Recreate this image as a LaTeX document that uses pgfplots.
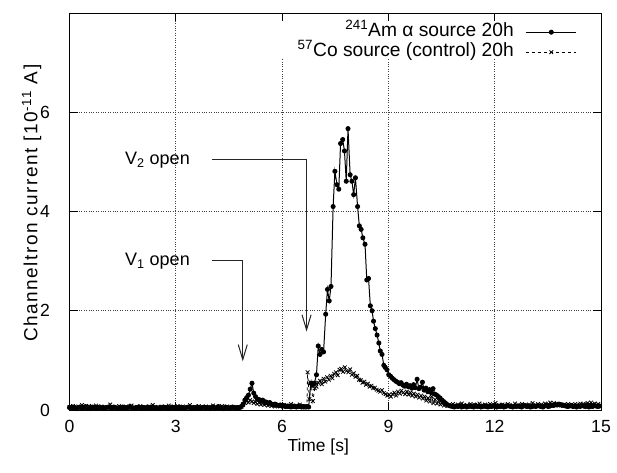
\documentclass[border=0pt]{standalone}
\usepackage{fontspec}
\setmainfont{Liberation Sans}
\newfontfamily\ylabfont[LetterSpace=8]{Liberation Sans}
\usepackage{pgfplots}
\pgfplotsset{compat=1.18}
\usetikzlibrary{arrows.meta}
\begin{document}
\begin{tikzpicture}[font=\fontsize{17.4}{20}\selectfont]
\useasboundingbox (-69.5pt,-62pt) rectangle (547.5pt,410pt);
\begin{axis}[
  at={(0pt,0pt)}, anchor=south west,
  scale only axis, width=531.5pt, height=397pt,
  xmin=0, xmax=15, ymin=0, ymax=8,
  xtick={0,3,...,15}, ytick={0,2,4,6},
  tick align=inside, major tick length=8pt,
  axis line style={line width=1pt},
  every tick/.style={black, line width=1pt},
  grid=major, grid style={dotted, line width=0.8pt, black!75},
  /pgf/number format/assume math mode=true,
  tick label style={font=\fontsize{17.6}{20}\selectfont},
  xticklabel style={anchor=north, inner sep=0pt, yshift=-10pt},
  yticklabel style={anchor=east, inner sep=0pt, xshift=-19.5pt},
  xlabel={Time [s]},
  ylabel={\ylabfont Channeltron current [10\textsuperscript{-11} A]},
  every axis x label/.style={at={([yshift=-36.7pt]axis description cs:0.468,0)}, anchor=center, font=\fontsize{17.4}{20}\selectfont},
  every axis y label/.style={at={([xshift=-37.8pt]axis description cs:0,0.521)}, rotate=90, anchor=center, font=\fontsize{19}{22}\selectfont},
  legend style={draw=none, fill=none, at={(axis description cs:1,1)}, anchor=north east,
    xshift=-24pt, yshift=-10pt, inner sep=0pt, column sep=12pt, row sep=2pt,
    font=\fontsize{19.2}{22}\selectfont,
    nodes={inner sep=0pt, text height=13.5pt, text depth=4.5pt}},
  legend cell align=right, legend plot pos=right,
  legend image code/.code={\draw[mark repeat=2, mark phase=2] plot coordinates {(0pt,0pt) (25pt,0pt) (50pt,0pt)};},
]
\fill[white] (axis cs:5.94,7.07) rectangle (axis cs:14.97,7.84);
\addplot[black, line width=1pt, mark=*, mark size=2pt, mark options={solid}] coordinates {
(0.00,0.05)(0.05,0.04)(0.10,0.06)(0.15,0.05)(0.20,0.03)(0.25,0.05)(0.30,0.06)(0.35,0.04)(0.40,0.05)(0.45,0.07)
(0.50,0.04)(0.55,0.05)(0.60,0.03)(0.65,0.06)(0.70,0.05)(0.75,0.04)(0.80,0.05)(0.85,0.06)(0.90,0.04)(0.95,0.05)
(1.00,0.03)(1.05,0.05)(1.10,0.06)(1.15,0.05)(1.20,0.04)(1.25,0.06)(1.30,0.05)(1.35,0.03)(1.40,0.05)(1.45,0.04)
(1.50,0.06)(1.55,0.05)(1.60,0.04)(1.65,0.05)(1.70,0.07)(1.75,0.05)(1.80,0.04)(1.85,0.03)(1.90,0.05)(1.95,0.06)
(2.00,0.04)(2.05,0.05)(2.10,0.05)(2.15,0.03)(2.20,0.06)(2.25,0.04)(2.30,0.05)(2.35,0.06)(2.40,0.04)(2.45,0.05)
(2.50,0.03)(2.55,0.05)(2.60,0.04)(2.65,0.06)(2.70,0.05)(2.75,0.05)(2.80,0.03)(2.85,0.04)(2.90,0.06)(2.95,0.05)
(3.00,0.04)(3.05,0.05)(3.10,0.06)(3.15,0.04)(3.20,0.05)(3.25,0.03)(3.30,0.05)(3.35,0.06)(3.40,0.05)(3.45,0.04)
(3.50,0.05)(3.55,0.03)(3.60,0.06)(3.65,0.05)(3.70,0.04)(3.75,0.05)(3.80,0.06)(3.85,0.04)(3.90,0.05)(3.95,0.03)
(4.00,0.05)(4.05,0.06)(4.10,0.04)(4.15,0.05)(4.20,0.07)(4.25,0.04)(4.30,0.05)(4.35,0.03)(4.40,0.06)(4.45,0.05)
(4.50,0.04)(4.55,0.05)(4.60,0.06)(4.65,0.05)(4.70,0.04)(4.75,0.05)(4.80,0.05)
(4.85,0.07)(4.90,0.12)(4.95,0.20)(5.00,0.25)(5.05,0.30)(5.10,0.42)(5.15,0.54)(5.20,0.34)(5.25,0.27)(5.30,0.22)
(5.35,0.21)(5.40,0.19)(5.45,0.20)(5.50,0.17)(5.55,0.16)(5.60,0.14)(5.65,0.15)(5.70,0.12)(5.75,0.11)(5.80,0.12)
(5.85,0.10)(5.90,0.09)(5.95,0.10)(6.00,0.08)(6.05,0.09)(6.10,0.07)(6.15,0.08)(6.20,0.07)(6.25,0.06)(6.30,0.08)
(6.35,0.07)(6.40,0.06)(6.45,0.07)(6.50,0.08)(6.55,0.06)(6.60,0.07)(6.65,0.06)(6.70,0.07)(6.75,0.06)
(6.81,0.54)(6.86,0.50)(6.91,0.54)(6.97,0.71)(7.02,1.29)(7.07,1.12)(7.12,1.22)(7.17,1.17)(7.23,1.93)(7.28,2.43)
(7.33,2.20)(7.38,2.49)(7.44,4.10)(7.49,4.81)(7.55,4.54)(7.60,4.45)(7.65,5.37)(7.71,5.45)(7.76,5.22)(7.81,4.61)
(7.86,5.67)(7.92,4.74)(7.97,4.61)(8.02,4.34)(8.07,4.68)(8.13,4.10)(8.18,3.71)(8.23,3.64)(8.28,3.47)(8.34,3.34)
(8.39,2.62)(8.44,2.65)(8.49,2.10)(8.54,2.00)(8.58,1.79)(8.63,1.64)(8.68,1.51)(8.73,1.35)(8.77,1.19)(8.82,1.12)
(8.87,0.90)(8.91,0.86)(8.96,0.81)(9.01,0.71)(9.06,0.68)(9.11,0.64)(9.16,0.61)(9.21,0.58)(9.26,0.56)(9.31,0.53)
(9.36,0.55)(9.41,0.50)(9.46,0.48)(9.51,0.52)(9.56,0.47)(9.61,0.49)(9.66,0.44)(9.71,0.51)(9.76,0.45)(9.81,0.62)
(9.86,0.43)(9.91,0.46)(9.96,0.56)(10.01,0.40)(10.06,0.44)(10.11,0.37)(10.16,0.41)(10.21,0.35)(10.26,0.43)(10.31,0.32)
(10.36,0.30)(10.41,0.27)(10.46,0.24)(10.51,0.20)(10.56,0.17)(10.61,0.14)(10.66,0.11)(10.71,0.09)
(10.76,0.08)(10.81,0.07)(10.86,0.06)(10.91,0.08)(10.96,0.07)(11.01,0.09)(11.06,0.06)(11.11,0.07)(11.16,0.08)(11.21,0.06)
(11.26,0.07)(11.31,0.08)(11.36,0.07)(11.41,0.06)(11.46,0.09)(11.51,0.07)(11.56,0.08)(11.61,0.06)(11.66,0.07)(11.71,0.08)
(11.76,0.07)(11.81,0.06)(11.86,0.08)(11.91,0.07)(11.96,0.09)(12.01,0.07)(12.06,0.06)(12.11,0.08)(12.16,0.07)(12.21,0.08)
(12.26,0.06)(12.31,0.07)(12.36,0.09)(12.41,0.08)(12.46,0.07)(12.51,0.06)(12.56,0.08)(12.61,0.07)(12.66,0.08)(12.71,0.07)
(12.76,0.06)(12.81,0.08)(12.86,0.09)(12.91,0.07)(12.96,0.08)(13.01,0.06)(13.06,0.07)(13.11,0.08)(13.16,0.07)(13.21,0.09)
(13.26,0.08)(13.31,0.07)(13.36,0.06)(13.41,0.08)(13.46,0.09)(13.51,0.07)(13.56,0.08)(13.61,0.10)(13.66,0.09)(13.71,0.11)
(13.76,0.10)(13.81,0.12)(13.86,0.11)(13.91,0.10)(13.96,0.09)(14.01,0.08)(14.06,0.07)(14.11,0.08)(14.16,0.09)(14.21,0.07)
(14.26,0.08)(14.31,0.06)(14.36,0.08)(14.41,0.07)(14.46,0.09)(14.51,0.08)(14.56,0.07)(14.61,0.08)(14.66,0.06)(14.71,0.08)
(14.76,0.07)(14.81,0.09)(14.86,0.08)(14.91,0.07)(14.96,0.08)
};
\addlegendentry{\textsuperscript{241}Am α source 20h}
\addplot[black, line width=0.8pt, dash pattern=on 3pt off 3pt, mark=x, mark size=2.6pt, mark options={solid, line width=0.8pt}] coordinates {
(0.00,0.06)(0.05,0.04)(0.10,0.08)(0.15,0.05)(0.20,0.03)(0.25,0.07)(0.30,0.05)(0.35,0.10)(0.40,0.04)(0.45,0.06)
(0.50,0.05)(0.55,0.08)(0.60,0.03)(0.65,0.06)(0.70,0.04)(0.75,0.09)(0.80,0.05)(0.85,0.04)(0.90,0.07)(0.95,0.05)
(1.00,0.03)(1.05,0.06)(1.10,0.05)(1.15,0.11)(1.20,0.04)(1.25,0.06)(1.30,0.05)(1.35,0.03)(1.40,0.08)(1.45,0.05)
(1.50,0.06)(1.55,0.04)(1.60,0.07)(1.65,0.05)(1.70,0.04)(1.75,0.09)(1.80,0.05)(1.85,0.03)(1.90,0.06)(1.95,0.05)
(2.00,0.08)(2.05,0.04)(2.10,0.05)(2.15,0.06)(2.20,0.03)(2.25,0.07)(2.30,0.05)(2.35,0.10)(2.40,0.04)(2.45,0.05)
(2.50,0.06)(2.55,0.04)(2.60,0.07)(2.65,0.05)(2.70,0.03)(2.75,0.06)(2.80,0.09)(2.85,0.05)(2.90,0.04)(2.95,0.06)
(3.00,0.05)(3.05,0.08)(3.10,0.04)(3.15,0.05)(3.20,0.07)(3.25,0.03)(3.30,0.06)(3.35,0.05)(3.40,0.10)(3.45,0.04)
(3.50,0.06)(3.55,0.05)(3.60,0.03)(3.65,0.08)(3.70,0.05)(3.75,0.06)(3.80,0.04)(3.85,0.07)(3.90,0.05)(3.95,0.03)
(4.00,0.06)(4.05,0.09)(4.10,0.05)(4.15,0.04)(4.20,0.06)(4.25,0.05)(4.30,0.08)(4.35,0.04)(4.40,0.05)(4.45,0.07)
(4.50,0.05)(4.55,0.04)(4.60,0.06)(4.65,0.05)(4.70,0.03)(4.75,0.06)(4.80,0.05)
(4.85,0.06)(4.90,0.10)(4.95,0.14)(5.00,0.18)(5.05,0.15)(5.10,0.20)(5.15,0.17)(5.20,0.14)(5.25,0.16)(5.30,0.12)
(5.35,0.15)(5.40,0.11)(5.45,0.13)(5.50,0.10)(5.55,0.12)(5.60,0.09)(5.65,0.11)(5.70,0.08)(5.75,0.10)(5.80,0.07)
(5.85,0.09)(5.90,0.11)(5.95,0.07)(6.00,0.08)(6.05,0.10)(6.10,0.06)(6.15,0.09)(6.20,0.07)(6.25,0.12)(6.30,0.08)
(6.35,0.06)(6.40,0.09)(6.45,0.07)(6.50,0.11)(6.55,0.06)(6.60,0.08)(6.65,0.05)(6.70,0.07)
(6.72,0.76)(6.77,0.22)(6.82,0.55)(6.87,0.18)(6.92,0.44)(6.97,0.47)
(7.02,0.55)(7.07,0.59)(7.12,0.52)(7.17,0.63)(7.22,0.57)(7.27,0.66)(7.32,0.61)(7.37,0.69)(7.42,0.64)(7.47,0.73)
(7.52,0.76)(7.57,0.70)(7.62,0.81)(7.67,0.83)(7.72,0.77)(7.77,0.86)(7.82,0.79)(7.87,0.76)(7.92,0.82)(7.97,0.71)
(8.02,0.74)(8.07,0.67)(8.12,0.69)(8.17,0.61)(8.22,0.60)(8.27,0.55)(8.32,0.57)(8.37,0.51)(8.42,0.53)(8.47,0.47)
(8.52,0.49)(8.57,0.44)(8.62,0.45)(8.67,0.41)(8.72,0.39)(8.77,0.37)(8.82,0.40)(8.87,0.34)(8.92,0.32)(8.97,0.29)
(9.02,0.31)(9.07,0.27)(9.12,0.32)(9.17,0.35)(9.22,0.29)(9.27,0.37)(9.32,0.33)(9.37,0.39)(9.42,0.35)(9.47,0.32)
(9.52,0.37)(9.57,0.31)(9.62,0.35)(9.67,0.29)(9.72,0.33)(9.77,0.27)(9.82,0.31)(9.87,0.25)(9.92,0.29)(9.97,0.23)
(10.02,0.27)(10.07,0.19)(10.12,0.24)(10.17,0.17)(10.22,0.27)(10.27,0.14)(10.32,0.21)(10.37,0.13)(10.42,0.19)(10.47,0.11)
(10.52,0.15)(10.57,0.09)(10.62,0.12)(10.67,0.08)
(10.72,0.10)(10.77,0.08)(10.82,0.12)(10.87,0.09)(10.92,0.07)(10.97,0.11)(11.02,0.08)(11.07,0.13)(11.12,0.09)(11.17,0.07)
(11.22,0.10)(11.27,0.08)(11.32,0.12)(11.37,0.09)(11.42,0.11)(11.47,0.07)(11.52,0.10)(11.57,0.13)(11.62,0.08)(11.67,0.09)
(11.72,0.11)(11.77,0.07)(11.82,0.10)(11.87,0.12)(11.92,0.08)(11.97,0.09)(12.02,0.14)(12.07,0.08)(12.12,0.10)(12.17,0.07)
(12.22,0.11)(12.27,0.09)(12.32,0.08)(12.37,0.12)(12.42,0.10)(12.47,0.07)(12.52,0.09)(12.57,0.13)(12.62,0.08)(12.67,0.10)
(12.72,0.09)(12.77,0.12)(12.82,0.07)(12.87,0.10)(12.92,0.08)(12.97,0.11)(13.02,0.09)(13.07,0.14)(13.12,0.08)(13.17,0.10)
(13.22,0.12)(13.27,0.09)(13.32,0.11)(13.37,0.08)(13.42,0.13)(13.47,0.10)(13.52,0.12)(13.57,0.15)(13.62,0.11)(13.67,0.14)
(13.72,0.12)(13.77,0.10)(13.82,0.11)(13.87,0.09)(13.92,0.08)(13.97,0.11)(14.02,0.10)(14.07,0.12)(14.12,0.09)(14.17,0.11)
(14.22,0.08)(14.27,0.12)(14.32,0.10)(14.37,0.09)(14.42,0.13)(14.47,0.08)(14.52,0.11)(14.57,0.12)(14.62,0.14)(14.67,0.12)
(14.72,0.15)(14.77,0.11)(14.82,0.13)(14.87,0.10)(14.92,0.12)(14.97,0.09)
};
\addlegendentry{\textsuperscript{57}Co source (control) 20h}
\draw[line width=1pt, black!85, -{Straight Barb[length=15pt, width=9pt]}] (axis cs:4.01,3.01) -- (axis cs:4.89,3.01) -- (axis cs:4.89,0.98);
\draw[line width=1pt, black!85, -{Straight Barb[length=15pt, width=9pt]}] (axis cs:4.01,5.05) -- (axis cs:6.69,5.05) -- (axis cs:6.69,1.58);
\node[anchor=base east, inner sep=0pt, yshift=-5pt, font=\fontsize{18}{20}\selectfont] at (axis cs:3.40,3.01) {V\textsubscript{1} open};
\node[anchor=base east, inner sep=0pt, yshift=-5pt, font=\fontsize{18}{20}\selectfont] at (axis cs:3.40,5.05) {V\textsubscript{2} open};
\end{axis}
\end{tikzpicture}
\end{document}
